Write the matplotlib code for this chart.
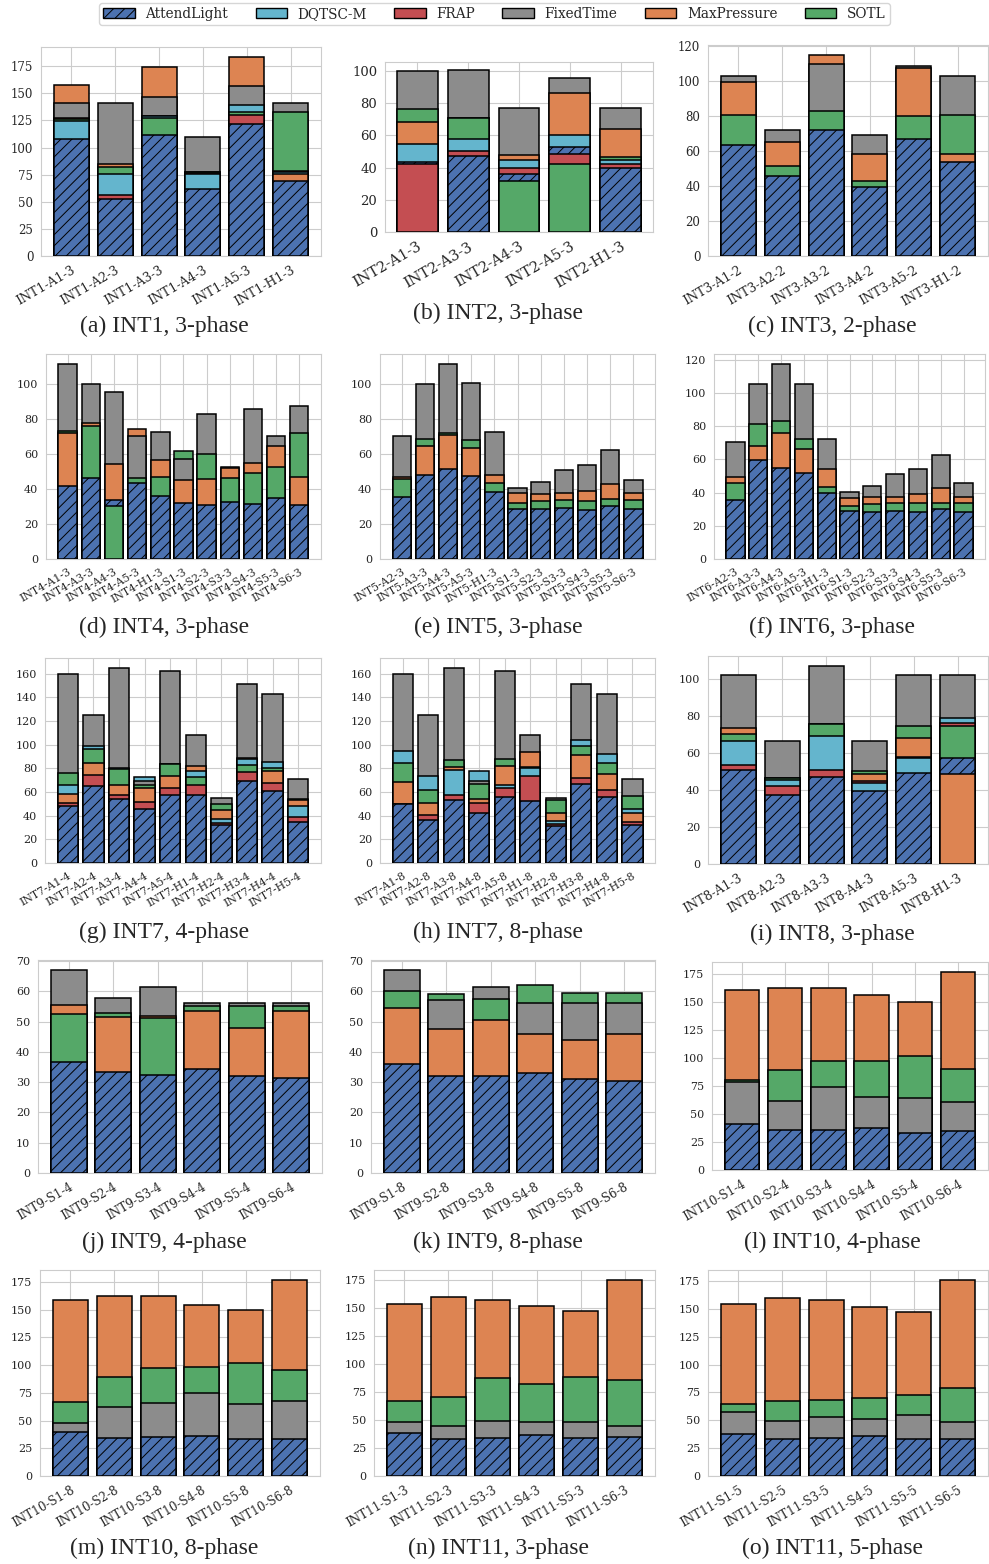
import matplotlib.pyplot as plt
from matplotlib.patches import Patch
from matplotlib.ticker import MultipleLocator
import seaborn as sns

sns.set_style("whitegrid")
plt.rcParams["font.family"] = ["DejaVu Serif"]
plt.rcParams["hatch.linewidth"] = 0.7

methods = ["AttendLight", "DQTSC-M", "FRAP", "FixedTime", "MaxPressure", "SOTL"]
colors = {"AttendLight": "#4C72B0", "DQTSC-M": "#64B5CD", "FRAP": "#C44E52",
          "FixedTime": "#8C8C8C", "MaxPressure": "#DD8452", "SOTL": "#55A868"}

# ---- INT1, 3-phase
int1_labels = ["INT1-A1-3", "INT1-A2-3", "INT1-A3-3", "INT1-A4-3", "INT1-A5-3", "INT1-H1-3"]
int1 = {"AttendLight": [108, 53, 112, 62, 122, 69],
        "DQTSC-M": [124, 76, 129, 75.5, 139, 77.5],
        "FRAP": [127, 56, 129.5, 76.5, 130, 78.5],
        "FixedTime": [141, 141, 147, 110, 157, 141.5],
        "MaxPressure": [158, 84.5, 174, 77, 183.5, 76],
        "SOTL": [126, 82, 127, 77, 132.5, 133]}

# ---- INT2, 3-phase
int2_labels = ["INT2-A1-3", "INT2-A3-3", "INT2-A4-3", "INT2-A5-3", "INT2-H1-3"]
int2 = {"AttendLight": [43.5, 47, 36, 52.5, 39.5],
        "DQTSC-M": [54.5, 58, 45, 60.5, 45],
        "FRAP": [42.5, 50, 39.5, 48.5, 42],
        "FixedTime": [100, 100.5, 77, 95.5, 77],
        "MaxPressure": [68.5, 71, 47.5, 86, 64],
        "SOTL": [76.5, 70.5, 31.5, 42.5, 46.5]}

# ---- INT3, 2-phase
int3_labels = ["INT3-A1-2", "INT3-A2-2", "INT3-A3-2", "INT3-A4-2", "INT3-A5-2", "INT3-H1-2"]
int3 = {"AttendLight": [63.5, 45.5, 72, 39.5, 67, 54],
        "FixedTime": [103, 72, 110, 69, 109, 103],
        "MaxPressure": [99.5, 65.5, 115, 58.5, 107.5, 58.5],
        "SOTL": [80.5, 51.5, 83, 43, 80, 80.5]}

# ---- INT4, 3-phase
int4_labels = ["INT4-A1-3", "INT4-A3-3", "INT4-A4-3", "INT4-A5-3", "INT4-H1-3", "INT4-S1-3",
               "INT4-S2-3", "INT4-S3-3", "INT4-S4-3", "INT4-S5-3", "INT4-S6-3"]
int4 = {"AttendLight": [41.5, 46, 33.5, 43.5, 36, 32, 31, 32.5, 31.5, 35, 31],
        "FixedTime": [111.5, 100, 95.5, 70.5, 72.5, 57, 83, 52.3, 85.5, 70.5, 87.5],
        "MaxPressure": [72, 77.5, 54.5, 74, 56.5, 45, 45.5, 52, 55, 64.5, 47],
        "SOTL": [73, 76, 30, 46, 47, 61.5, 60, 46.5, 49, 52.5, 72]}

# ---- INT5, 3-phase
int5_labels = ["INT5-A2-3", "INT5-A3-3", "INT5-A4-3", "INT5-A5-3", "INT5-H1-3", "INT5-S1-3",
               "INT5-S2-3", "INT5-S3-3", "INT5-S4-3", "INT5-S5-3", "INT5-S6-3"]
int5 = {"AttendLight": [35.5, 48, 51.5, 47.5, 38.5, 28.5, 28.5, 29, 28, 30, 28.5],
        "FixedTime": [70.5, 100, 111.5, 100.5, 72.5, 40.5, 44, 51, 53.5, 62.5, 45],
        "MaxPressure": [47, 64.5, 71, 63.5, 48, 37.5, 37, 37.5, 39, 43, 37.5],
        "SOTL": [45.5, 68.5, 72, 68, 43.5, 32, 33, 33.5, 33, 34, 33.5]}

# ---- INT6, 3-phase
int6_labels = ["INT6-A2-3", "INT6-A3-3", "INT6-A4-3", "INT6-A5-3", "INT6-H1-3", "INT6-S1-3",
               "INT6-S2-3", "INT6-S3-3", "INT6-S4-3", "INT6-S5-3", "INT6-S6-3"]
int6 = {"AttendLight": [35.5, 59.5, 55, 52, 40, 29, 28.5, 29, 28.5, 30, 28.5],
        "FixedTime": [70.5, 105.5, 117.5, 105.5, 72.5, 40.5, 44, 51, 54, 62.5, 45.5],
        "MaxPressure": [49.5, 68, 76, 66, 54, 37, 37.5, 37.5, 39, 43, 37.5],
        "SOTL": [46, 81.5, 83, 72.5, 43.5, 32, 33, 33.5, 33.5, 33.5, 33.5]}

# ---- INT7, 4-phase
int7_4_labels = ["INT7-A1-4", "INT7-A2-4", "INT7-A3-4", "INT7-A4-4", "INT7-A5-4",
                 "INT7-H1-4", "INT7-H2-4", "INT7-H3-4", "INT7-H4-4", "INT7-H5-4"]
int7_4 = {"AttendLight": [48.5, 65, 54, 45.5, 57.5, 57.5, 32, 69, 61, 34.5],
          "DQTSC-M": [65.5, 99, 80, 72.5, 84, 77.5, 37, 88, 85.5, 48],
          "FRAP": [50.5, 74, 57.5, 51.5, 63.5, 66, 33.5, 77, 67.5, 39],
          "FixedTime": [160, 125, 165, 69, 162, 108.5, 55, 151.5, 142.5, 71],
          "MaxPressure": [58.5, 84.5, 66, 63, 73.5, 82, 45, 89, 77.5, 53],
          "SOTL": [76, 96.5, 79.5, 65.5, 83.5, 73, 50, 82.5, 80, 54]}

# ---- INT7, 8-phase
int7_8_labels = ["INT7-A1-8", "INT7-A2-8", "INT7-A3-8", "INT7-A4-8", "INT7-A5-8",
                 "INT7-H1-8", "INT7-H2-8", "INT7-H3-8", "INT7-H4-8", "INT7-H5-8"]
int7_8 = {"AttendLight": [49.5, 36.5, 53, 42.5, 55.5, 52.5, 31, 66.5, 55.5, 32.5],
          "DQTSC-M": [94.5, 73.5, 78.5, 77.5, 66, 80.5, 35.5, 104, 92, 45.5],
          "FRAP": [50, 40.5, 57.5, 51, 63, 73.5, 33, 72, 61.5, 34.5],
          "FixedTime": [160, 125, 165, 69, 162, 108.5, 55, 151.5, 142.5, 71],
          "MaxPressure": [68.5, 50.5, 81, 54.5, 82, 93.5, 42, 91, 75, 42.5],
          "SOTL": [84.5, 62, 87, 66.5, 88, 81, 53.5, 98.5, 84.5, 56.5]}

# ---- INT8, 3-phase
int8_labels = ["INT8-A1-3", "INT8-A2-3", "INT8-A3-3", "INT8-A4-3", "INT8-A5-3", "INT8-H1-3"]
int8 = {"AttendLight": [51, 37.5, 47, 39.5, 49, 57.5],
        "DQTSC-M": [66.5, 45.5, 69, 44, 57, 79],
        "FRAP": [53.5, 42, 51, 45, 58, 76],
        "FixedTime": [102, 66.5, 107, 66.5, 102, 102],
        "MaxPressure": [73.5, 46.5, 75.8, 48.5, 68, 48.5],
        "SOTL": [70, 46.2, 75.5, 50, 74.5, 74.5]}

# ---- INT9, 4-phase / 8-phase
int9_4_labels = ["INT9-S1-4", "INT9-S2-4", "INT9-S3-4", "INT9-S4-4", "INT9-S5-4", "INT9-S6-4"]
int9_4 = {"AttendLight": [36.5, 33.5, 32.5, 34.5, 32, 31.5],
          "FixedTime": [67, 57.7, 61.5, 56.3, 56, 56],
          "MaxPressure": [55.5, 51.5, 52, 53.5, 48, 53.5],
          "SOTL": [52.5, 53, 51.3, 55, 55.3, 55.3]}

int9_8_labels = ["INT9-S1-8", "INT9-S2-8", "INT9-S3-8", "INT9-S4-8", "INT9-S5-8", "INT9-S6-8"]
int9_8 = {"AttendLight": [36, 32, 32, 33, 31, 30.5],
          "FixedTime": [67, 57.3, 61.5, 56, 56, 56],
          "MaxPressure": [54.5, 47.5, 50.5, 46, 44, 46],
          "SOTL": [60, 59.2, 57.5, 62, 59.6, 59.6]}

# ---- INT10, 4-phase / 8-phase
int10_4_labels = ["INT10-S1-4", "INT10-S2-4", "INT10-S3-4", "INT10-S4-4", "INT10-S5-4", "INT10-S6-4"]
int10_4 = {"AttendLight": [41.5, 35.5, 35.5, 37.5, 33.5, 34.5],
           "FixedTime": [79, 61.5, 74.5, 65.5, 64.5, 60.5],
           "MaxPressure": [160.5, 163, 162.5, 156, 150.5, 177],
           "SOTL": [80, 89, 97.5, 97, 102, 90]}

int10_8_labels = ["INT10-S1-8", "INT10-S2-8", "INT10-S3-8", "INT10-S4-8", "INT10-S5-8", "INT10-S6-8"]
int10_8 = {"AttendLight": [40, 34.5, 35.5, 36, 33, 33],
           "FixedTime": [48, 62, 66, 74.5, 65, 67.5],
           "MaxPressure": [159, 162, 162, 154.5, 149.5, 177],
           "SOTL": [67, 89.5, 97.5, 98, 102, 95.5]}

# ---- INT11, 3-phase / 5-phase
int11_3_labels = ["INT11-S1-3", "INT11-S2-3", "INT11-S3-3", "INT11-S4-3", "INT11-S5-3", "INT11-S6-3"]
int11_3 = {"AttendLight": [38.5, 33, 34, 37, 34, 34.5],
           "FixedTime": [48, 45, 49, 48, 48, 45],
           "MaxPressure": [154, 160, 157.5, 152, 147.5, 175.5],
           "SOTL": [67, 71, 88, 82, 89, 86]}

int11_5_labels = ["INT11-S1-5", "INT11-S2-5", "INT11-S3-5", "INT11-S4-5", "INT11-S5-5", "INT11-S6-5"]
int11_5 = {"AttendLight": [37.5, 33, 34, 36, 33, 33.5],
           "FixedTime": [57, 49.5, 52.5, 51, 54.5, 48.5],
           "MaxPressure": [154.5, 160, 157.5, 152, 147.5, 176],
           "SOTL": [64.5, 67, 68, 70, 73, 79]}

W, H = 989, 1564
fig = plt.figure(figsize=(W / 100, H / 100), dpi=100)

# (labels, data, caption, box in pixels l/r/top/bottom, y step, xtick size, ytick size, caption y)
panels = [
    (int1_labels, int1, "(a) INT1, 3-phase", (41, 321, 47, 256), 25, 9, 8.5, 326),
    (int2_labels, int2, "(b) INT2, 3-phase", (385, 653, 62, 232), 20, 10.5, 9.5, 313),
    (int3_labels, int3, "(c) INT3, 2-phase", (708, 988, 45, 256), 20, 9, 8.5, 326),
    (int4_labels, int4, "(d) INT4, 3-phase", (46, 321, 354, 559), 20, 7.8, 8, 627),
    (int5_labels, int5, "(e) INT5, 3-phase", (380, 655, 354, 559), 20, 7.8, 8, 627),
    (int6_labels, int6, "(f) INT6, 3-phase", (714, 985, 354, 559), 20, 7.8, 8, 627),
    (int7_4_labels, int7_4, "(g) INT7, 4-phase", (45, 321, 658, 863), 20, 7.8, 8, 932),
    (int7_8_labels, int7_8, "(h) INT7, 8-phase", (380, 655, 658, 863), 20, 7.8, 8, 932),
    (int8_labels, int8, "(i) INT8, 3-phase", (708, 988, 656, 864), 20, 9, 8, 934),
    (int9_4_labels, int9_4, "(j) INT9, 4-phase", (38, 322, 960, 1173), 10, 8.6, 8, 1242),
    (int9_8_labels, int9_8, "(k) INT9, 8-phase", (371, 655, 960, 1173), 10, 8.6, 8, 1242),
    (int10_4_labels, int10_4, "(l) INT10, 4-phase", (712, 988, 962, 1170), 25, 8.6, 8, 1242),
    (int10_8_labels, int10_8, "(m) INT10, 8-phase", (40, 320, 1270, 1476), 25, 8.6, 8, 1548),
    (int11_3_labels, int11_3, "(n) INT11, 3-phase", (374, 655, 1270, 1476), 25, 8.6, 8, 1548),
    (int11_5_labels, int11_5, "(o) INT11, 5-phase", (708, 988, 1270, 1476), 25, 8.6, 8, 1548),
]
caption_x = [164, 498, 832]

for k, (labels, data, caption, box, step, xs, ys, cy) in enumerate(panels):
    l, r, t, b = box
    ax = fig.add_axes([l / W, 1 - b / H, (r - l) / W, (b - t) / H])
    x = list(range(len(labels)))
    for m in methods:
        if m not in data:
            continue
        vals = data[m]
        bars = ax.bar(x, vals, width=0.8, color=colors[m], edgecolor="black",
                      linewidth=1.1, hatch="///" if m == "AttendLight" else None)
        # taller bars sit behind shorter ones
        for i, patch in enumerate(bars):
            column = sorted((d[i] for d in data.values()), reverse=True)
            patch.set_zorder(3 + column.index(vals[i]))
    ax.set_axisbelow(True)
    ax.yaxis.set_major_locator(MultipleLocator(step))
    ax.set_xticks(x)
    ax.set_xticklabels(labels, rotation=30, ha="right", rotation_mode="anchor", fontsize=xs)
    ax.tick_params(axis="y", labelsize=ys, pad=2)
    ax.tick_params(axis="x", pad=2)
    fig.text(caption_x[k % 3] / W, 1 - cy / H, caption, ha="center", va="center",
             fontsize=17, family="Liberation Serif")

handles = [Patch(facecolor=colors[m], edgecolor="black", hatch="///" if m == "AttendLight" else None,
                 label=m) for m in methods]
fig.legend(handles=handles, loc="center", bbox_to_anchor=(0.5, 1 - 14 / H), ncol=6,
           fontsize=9.8, frameon=True, edgecolor="0.8", handlelength=2.3,
           columnspacing=2.0, borderpad=0.3)

fig.savefig("out.png", dpi=100)
